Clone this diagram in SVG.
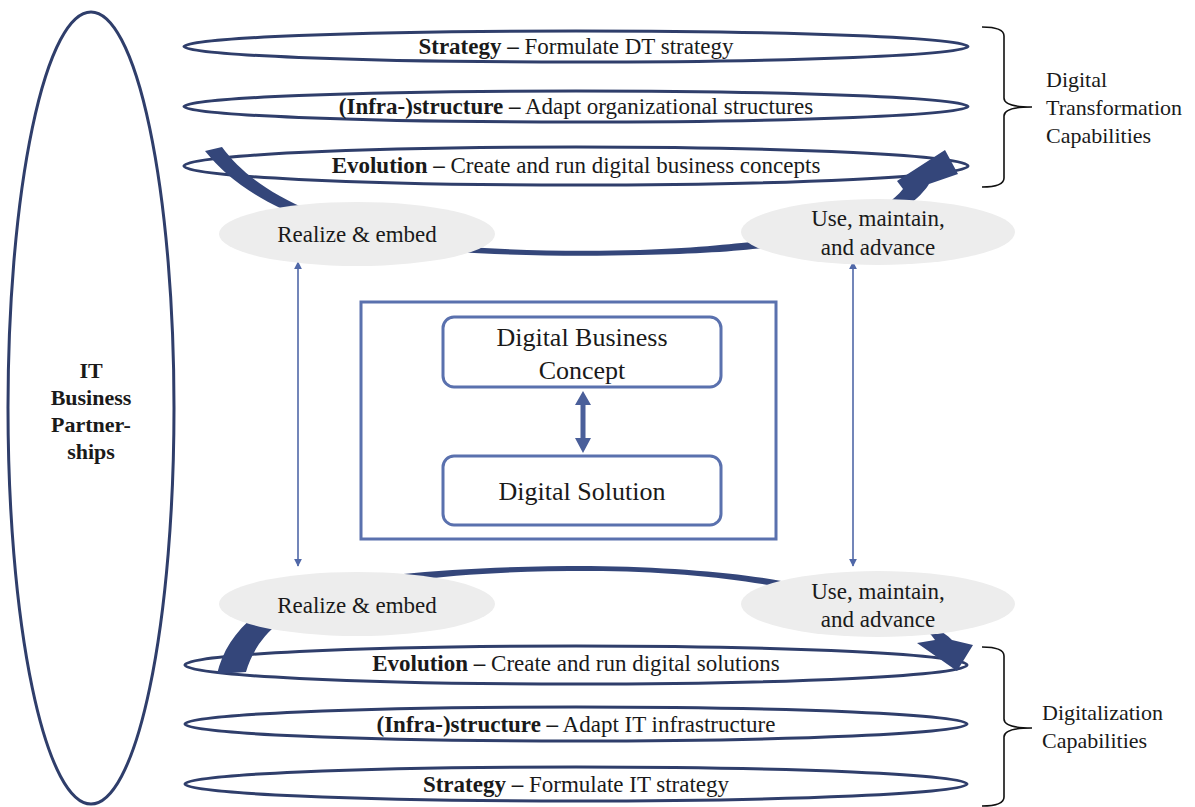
<svg xmlns="http://www.w3.org/2000/svg" width="1195" height="807" viewBox="0 0 1195 807">
<defs>
<style>
.cap{fill:#fff;stroke:#2F3E6B;stroke-width:3}
.t{font-family:"Liberation Serif","Times New Roman","DejaVu Serif",serif;fill:#1a1a1a}
.lbl{font-size:23px}
.b{font-weight:bold}
.grey{fill:#EDEDED}
.brace{fill:none;stroke:#111;stroke-width:1.6}
.box{fill:#fff;stroke:#5A71AE;stroke-width:3}
.thin{stroke:#5068A8;stroke-width:1.6;fill:none}
.big{fill:#34467A}
</style>
<marker id="ah" viewBox="0 0 10 10" refX="9" refY="5" markerWidth="8" markerHeight="8" markerUnits="userSpaceOnUse" orient="auto-start-reverse"><path d="M0,0 L10,5 L0,10 Z" fill="#5068A8"/></marker>
</defs>
<rect width="1195" height="807" fill="#fff"/>

<g id="partnerships">
<ellipse cx="91" cy="408" rx="83" ry="396" class="cap"/>
<text class="t b" font-size="22" text-anchor="middle" x="91"><tspan x="91" y="378">IT</tspan><tspan x="91" y="405">Business</tspan><tspan x="91" y="432">Partner-</tspan><tspan x="91" y="459">ships</tspan></text>
</g>

<g id="dt-strategy">
<ellipse cx="576" cy="46.5" rx="392" ry="15.5" class="cap"/>
<text class="t lbl" text-anchor="middle" x="576" y="54"><tspan class="b">Strategy –</tspan> Formulate DT strategy</text>
</g>
<g id="dt-structure">
<ellipse cx="576" cy="106.5" rx="392" ry="15.5" class="cap"/>
<text class="t lbl" text-anchor="middle" x="576" y="114"><tspan class="b">(Infra-)structure –</tspan> Adapt organizational structures</text>
</g>
<g id="dt-evolution">
<ellipse cx="576" cy="166" rx="392" ry="19" class="cap"/>
<text class="t lbl" text-anchor="middle" x="576" y="173"><tspan class="b">Evolution –</tspan> Create and run digital business concepts</text>
</g>

<g id="d-evolution">
<ellipse cx="576" cy="665" rx="391" ry="19" class="cap"/>
<text class="t lbl" text-anchor="middle" x="576" y="671"><tspan class="b">Evolution –</tspan> Create and run digital solutions</text>
</g>
<g id="d-structure">
<ellipse cx="576" cy="724" rx="391" ry="17" class="cap"/>
<text class="t lbl" text-anchor="middle" x="576" y="732"><tspan class="b">(Infra-)structure –</tspan> Adapt IT infrastructure</text>
</g>
<g id="d-strategy">
<ellipse cx="576" cy="784" rx="391" ry="17" class="cap"/>
<text class="t lbl" text-anchor="middle" x="576" y="792"><tspan class="b">Strategy –</tspan> Formulate IT strategy</text>
</g>

<g id="connectors">
<path class="big" d="M205,151 L222,147 C250,185 300,215 400,239 C460,250 560,252 640,250 C700,248 740,243 760,241 C840,231 885,212 903,189 L897,181 L945,150 L958,174 L929,184 C915,207 870,236 770,247 C740,251 700,254 640,255 C560,257 460,255 400,246 C300,225 240,195 205,151 Z"/>
<path class="big" d="M217,674 C225,640 250,610 300,590 C380,572 480,566 590,566 C680,567 760,575 800,585 C880,603 935,622 952,640 L973,645 L957,671 L917,643 L935,640 C920,615 860,596 790,589 C740,579 670,571 590,571 C480,571 390,578 320,600 C280,615 255,640 246,672 Z"/>
<line x1="298" y1="262" x2="298" y2="566" class="thin" marker-start="url(#ah)" marker-end="url(#ah)"/>
<line x1="853" y1="262" x2="853" y2="566" class="thin" marker-start="url(#ah)" marker-end="url(#ah)"/>
</g>

<g id="realize-top">
<ellipse cx="357" cy="234" rx="138" ry="32" class="grey"/>
<text class="t lbl" text-anchor="middle" x="357" y="242">Realize &amp; embed</text>
</g>
<g id="use-top">
<ellipse cx="878" cy="232" rx="137" ry="33" class="grey"/>
<text class="t lbl" text-anchor="middle"><tspan x="878" y="226">Use, maintain,</tspan><tspan x="878" y="255">and advance</tspan></text>
</g>
<g id="realize-bottom">
<ellipse cx="357" cy="604" rx="138" ry="32" class="grey"/>
<text class="t lbl" text-anchor="middle" x="357" y="613">Realize &amp; embed</text>
</g>
<g id="use-bottom">
<ellipse cx="878" cy="604" rx="137" ry="33" class="grey"/>
<text class="t lbl" text-anchor="middle"><tspan x="878" y="599">Use, maintain,</tspan><tspan x="878" y="627">and advance</tspan></text>
</g>

<g id="center-frame">
<rect x="361" y="302" width="415" height="237" class="box"/>
</g>
<g id="concept">
<rect x="443" y="317" width="278" height="70" rx="11" class="box"/>
<text class="t" font-size="26" text-anchor="middle"><tspan x="582" y="346">Digital Business</tspan><tspan x="582" y="379">Concept</tspan></text>
</g>
<g id="solution">
<rect x="443" y="456" width="278" height="69" rx="11" class="box"/>
<text class="t" font-size="26" text-anchor="middle" x="582" y="500">Digital Solution</text>
</g>
<g id="center-arrow">
<path d="M583,391 L591,405 L585.5,405 L585.5,438 L591,438 L583,453 L575,438 L580.5,438 L580.5,405 L575,405 Z" fill="#4A5F9A"/>
</g>

<g id="dt-brace">
<path class="brace" d="M982,27 Q1004,27 1004,36 L1004,98 Q1004,107 1032,107 Q1004,107 1004,116 L1004,178 Q1004,187 982,187"/>
<text class="t" font-size="22"><tspan x="1046" y="87">Digital</tspan><tspan x="1046" y="115">Transformation</tspan><tspan x="1046" y="143">Capabilities</tspan></text>
</g>
<g id="d-brace">
<path class="brace" d="M982,647 Q1004,647 1004,656 L1004,719 Q1004,728 1032,728 Q1004,728 1004,737 L1004,797 Q1004,806 982,806"/>
<text class="t" font-size="22"><tspan x="1042" y="720">Digitalization</tspan><tspan x="1042" y="748">Capabilities</tspan></text>
</g>
</svg>
